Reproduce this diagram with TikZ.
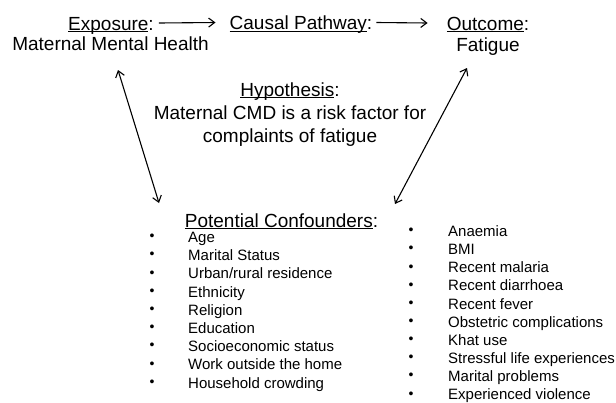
\documentclass[tikz,border=0pt]{standalone}
\usepackage{fontspec}
\setmainfont{Liberation Sans}
\usetikzlibrary{arrows.meta}

% underline a word close under its baseline
\newcommand{\uword}[1]{\setbox0\hbox{#1}\rlap{\rule[-2.4pt]{\wd0}{1.1pt}}\box0}

\tikzset{
  head/.style={font=\fontsize{19}{23}\selectfont, inner sep=0pt, anchor=base},
  confitem/.style={font=\fontsize{15}{18}\selectfont, inner sep=0pt, anchor=base west},
  dot/.style={font=\fontsize{14}{16}\selectfont, inner sep=0pt},
  link/.style={-{Straight Barb[length=6pt,width=9pt]}, line width=1.1pt},
  twoway/.style={{Straight Barb[length=6pt,width=9pt]}-{Straight Barb[length=6pt,width=9pt]}, line width=1.1pt}
}

\begin{document}
\begin{tikzpicture}[x=1pt,y=-1pt]
  \useasboundingbox (0,0) rectangle (616,402);

  % Top row
  \node[head] (exposure) at (111,30) {\uword{Exposure}:};
  \node[head] (mmh) at (110.5,50) {Maternal Mental Health};
  \node[head] (causal) at (301,29.5) {\uword{Causal Pathway}:};
  \node[head] (outcome) at (488,30) {\uword{Outcome}:};
  \node[head] (fatigue) at (488,51.5) {Fatigue};

  % Hypothesis
  \node[head, align=center] (hyp) at (290,142) {\uword{Hypothesis}:\\Maternal CMD is a risk factor for\\complaints of fatigue};

  % Arrows along the top
  \draw[link] ([xshift=5pt,yshift=7pt]exposure.base east) -- ([xshift=-14pt,yshift=7pt]causal.base west);
  \draw[link] ([xshift=4pt,yshift=7pt]causal.base east) -- ([xshift=-19pt,yshift=7pt]outcome.base west);

  % Confounders
  \node[head] (conf) at (281.5,227) {\uword{Potential Confounders}:};

  \foreach \txt [count=\i from 0] in {Age, Marital Status, Urban/rural residence, Ethnicity,
      Religion, Education, Socioeconomic status, Work outside the home, Household crowding} {
    \node[confitem] (l\i) at (188,242.5+\i*18.2) {\txt};
    \node[dot] at (152,237.5+\i*18.2) {\textbullet};
  }

  \foreach \txt [count=\i from 0] in {Anaemia, BMI, Recent malaria, Recent diarrhoea, Recent fever,
      Obstetric complications, Khat use, Stressful life experiences, Marital problems, Experienced violence} {
    \node[confitem] (r\i) at (448,236.5+\i*18.15) {\txt};
    \node[dot] at (411,231.5+\i*18.15) {\textbullet};
  }

  % Double arrows to the confounders
  \coordinate (lt) at (118,70);
  \coordinate (lb) at (159,203);
  \coordinate (rt) at (467,68);
  \coordinate (rb) at (395,204);
  \draw[twoway] (lt) -- (lb);
  \draw[twoway] (rt) -- (rb);
\end{tikzpicture}
\end{document}
